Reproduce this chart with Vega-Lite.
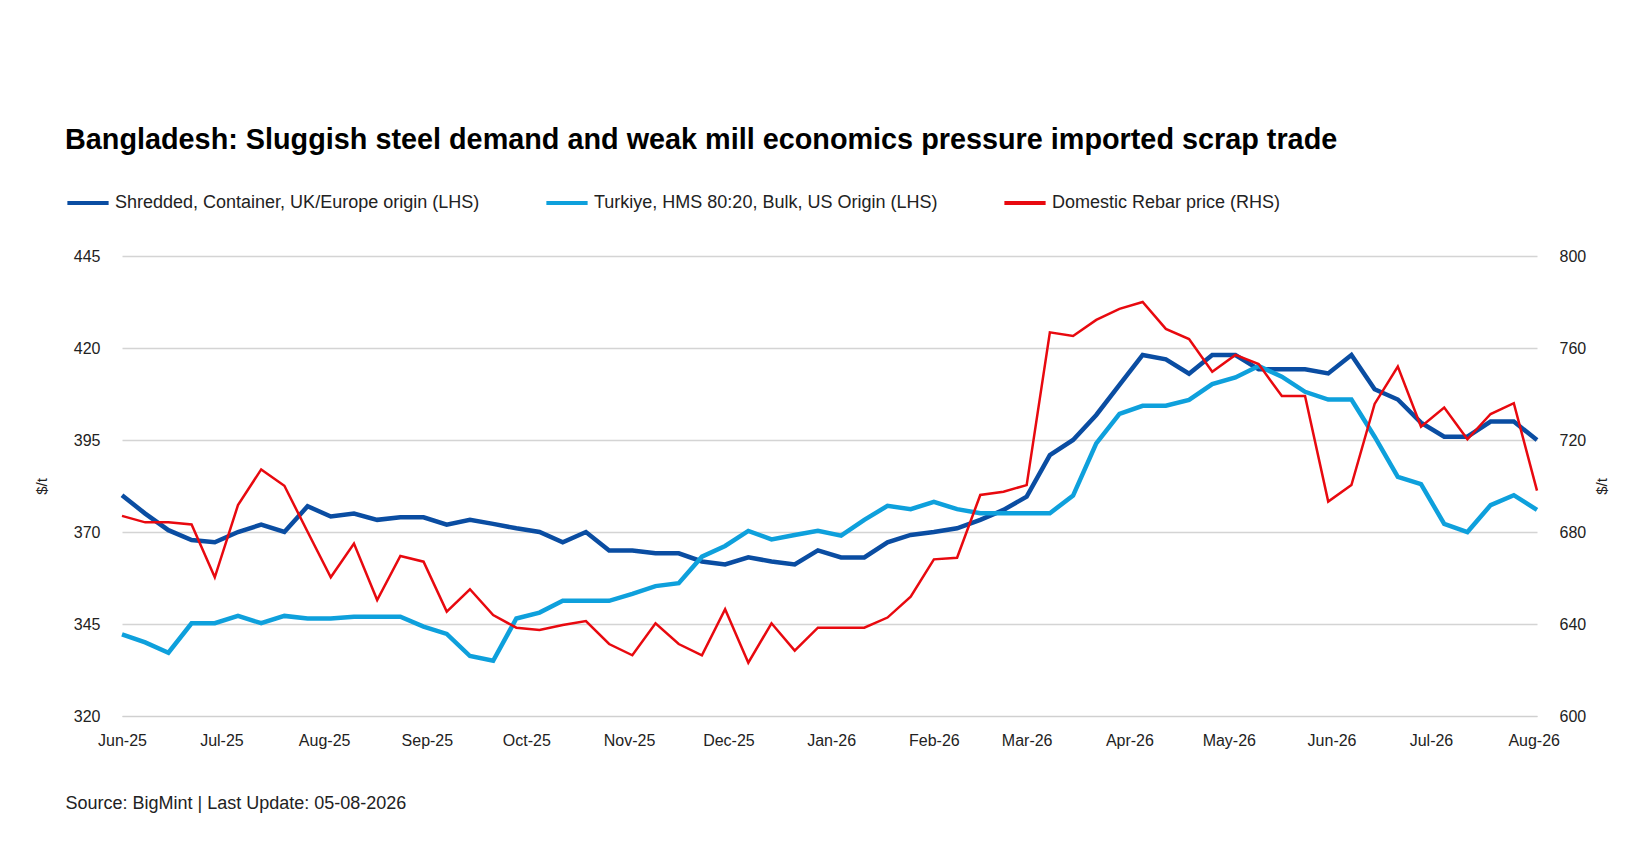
{
  "$schema": "https://vega.github.io/schema/vega-lite/v6.json",
  "width": 1415,
  "height": 460,
  "autosize": "none",
  "padding": {"left": 122, "top": 256, "right": 113, "bottom": 137},
  "background": "white",
  "config": {"font": "Liberation Sans", "view": {"stroke": null}},
  "title": {"text": "Bangladesh: Sluggish steel demand and weak mill economics pressure imported scrap trade", "anchor": "start", "frame": "group", "dx": -57, "offset": 25, "fontSize": 28.8, "fontWeight": "bold", "color": "#000000", "baseline": "top"},
  "data": {"values": [
    {"d":"2025-06-01","a":380,"b":342.2,"r":687},
    {"d":"2025-06-08","a":375,"b":340,"r":684.2},
    {"d":"2025-06-15","a":370.5,"b":337.2,"r":684.2},
    {"d":"2025-06-22","a":367.8,"b":345.2,"r":683.3},
    {"d":"2025-06-29","a":367.2,"b":345.2,"r":660.3},
    {"d":"2025-07-06","a":370,"b":347.2,"r":691.7},
    {"d":"2025-07-13","a":372,"b":345.2,"r":707.2},
    {"d":"2025-07-20","a":370,"b":347.2,"r":700.1},
    {"d":"2025-07-27","a":377,"b":346.5,"r":680.1},
    {"d":"2025-08-03","a":374.2,"b":346.5,"r":660.3},
    {"d":"2025-08-10","a":375,"b":347,"r":675},
    {"d":"2025-08-17","a":373.3,"b":347,"r":650.4},
    {"d":"2025-08-24","a":374,"b":347,"r":669.6},
    {"d":"2025-08-31","a":374,"b":344.3,"r":667.1},
    {"d":"2025-09-07","a":372,"b":342.3,"r":645.4},
    {"d":"2025-09-14","a":373.3,"b":336.3,"r":655.1},
    {"d":"2025-09-21","a":372.2,"b":335,"r":643.9},
    {"d":"2025-09-28","a":371,"b":346.5,"r":638.4},
    {"d":"2025-10-05","a":370,"b":348.1,"r":637.4},
    {"d":"2025-10-12","a":367.2,"b":351.3,"r":639.6},
    {"d":"2025-10-19","a":370,"b":351.3,"r":641.3},
    {"d":"2025-10-26","a":365,"b":351.3,"r":631.3},
    {"d":"2025-11-02","a":365,"b":353.2,"r":626.4},
    {"d":"2025-11-09","a":364.2,"b":355.3,"r":640.3},
    {"d":"2025-11-16","a":364.2,"b":356.1,"r":631.3},
    {"d":"2025-11-23","a":362,"b":363.3,"r":626.4},
    {"d":"2025-11-30","a":361.2,"b":366.2,"r":646.4},
    {"d":"2025-12-07","a":363.1,"b":370.3,"r":623.2},
    {"d":"2025-12-14","a":362,"b":368,"r":640.3},
    {"d":"2025-12-21","a":361.2,"b":369.2,"r":628.4},
    {"d":"2025-12-28","a":365,"b":370.3,"r":638.4},
    {"d":"2026-01-04","a":363.1,"b":369,"r":638.4},
    {"d":"2026-01-11","a":363.1,"b":373.3,"r":638.4},
    {"d":"2026-01-18","a":367.2,"b":377.1,"r":642.8},
    {"d":"2026-01-25","a":369.2,"b":376.2,"r":651.9},
    {"d":"2026-02-01","a":370,"b":378.2,"r":668.1},
    {"d":"2026-02-08","a":371,"b":376.2,"r":668.8},
    {"d":"2026-02-15","a":373.3,"b":375.1,"r":696.1},
    {"d":"2026-02-22","a":376,"b":375.1,"r":697.5},
    {"d":"2026-03-01","a":379.6,"b":375.1,"r":700.4},
    {"d":"2026-03-08","a":390.9,"b":375.1,"r":766.8},
    {"d":"2026-03-15","a":395,"b":379.9,"r":765.2},
    {"d":"2026-03-22","a":401.8,"b":394.1,"r":772.2},
    {"d":"2026-03-29","a":410,"b":402.1,"r":777},
    {"d":"2026-04-05","a":418.1,"b":404.3,"r":780},
    {"d":"2026-04-12","a":416.9,"b":404.3,"r":768.3},
    {"d":"2026-04-19","a":413,"b":405.9,"r":763.9},
    {"d":"2026-04-26","a":418.1,"b":410.2,"r":749.7},
    {"d":"2026-05-03","a":418.1,"b":412,"r":757},
    {"d":"2026-05-10","a":414.2,"b":415.1,"r":753},
    {"d":"2026-05-17","a":414.2,"b":412.2,"r":739.1},
    {"d":"2026-05-24","a":414.2,"b":408.1,"r":739.1},
    {"d":"2026-05-31","a":413.1,"b":406,"r":693.2},
    {"d":"2026-06-07","a":418.1,"b":406,"r":700.4},
    {"d":"2026-06-14","a":408.8,"b":395.9,"r":735.7},
    {"d":"2026-06-21","a":406,"b":385,"r":751.9},
    {"d":"2026-06-28","a":399.7,"b":383,"r":725.8},
    {"d":"2026-07-05","a":395.9,"b":372.2,"r":734.1},
    {"d":"2026-07-12","a":395.9,"b":370,"r":720.3},
    {"d":"2026-07-19","a":400,"b":377.3,"r":731.3},
    {"d":"2026-07-26","a":400,"b":380,"r":736},
    {"d":"2026-08-02","a":395,"b":376,"r":698}
  ]},
  "transform": [
    {"fold": ["a", "b", "r"], "as": ["key", "value"]},
    {"lookup": "key", "from": {"data": {"values": [
      {"key": "a", "series": "Shredded, Container, UK/Europe origin (LHS)"},
      {"key": "b", "series": "Turkiye, HMS 80:20, Bulk, US Origin (LHS)"},
      {"key": "r", "series": "Domestic Rebar price (RHS)"}
    ]}, "key": "key", "fields": ["series"]}}
  ],
  "encoding": {
    "x": {"field": "d", "type": "temporal",
      "scale": {"domain": ["2025-06-01", "2026-08-02"]},
      "axis": {"format": "%b-%y", "tickCount": {"interval": "month", "step": 1}, "grid": false, "ticks": false, "domainColor": "#d0d0d0", "labelFontSize": 16, "labelColor": "#222", "labelPadding": 16, "labelFlush": false,
        "title": "Source: BigMint | Last Update: 05-08-2026", "titleAnchor": "start", "titleX": -57, "titleY": 78, "titleFontSize": 18, "titleFontWeight": "normal", "titleColor": "#222"}},
    "color": {"field": "series", "type": "nominal",
      "scale": {"domain": ["Shredded, Container, UK/Europe origin (LHS)", "Turkiye, HMS 80:20, Bulk, US Origin (LHS)", "Domestic Rebar price (RHS)"], "range": ["#0a4da2", "#0ea0dc", "#e8090f"]},
      "legend": {"title": null, "orient": "none", "legendX": -57, "legendY": -76, "direction": "horizontal", "symbolType": "stroke", "symbolStrokeWidth": 4, "symbolSize": 1700, "labelFontSize": 18, "labelColor": "#222", "columnPadding": 58, "labelOffset": 4, "labelLimit": 500}}
  },
  "layer": [
    {
      "transform": [{"filter": "datum.key != 'r'"}],
      "mark": {"type": "line", "strokeWidth": 4.5},
      "encoding": {
        "y": {"field": "value", "type": "quantitative",
          "scale": {"domain": [320, 445]},
          "axis": {"values": [320, 345, 370, 395, 420, 445], "domain": false, "ticks": false, "gridColor": "#d4d4d4", "gridWidth": 1.5, "labelFontSize": 16, "labelColor": "#222", "labelPadding": 22, "title": "$/t", "titleFontSize": 15, "titleFontWeight": "normal", "titleColor": "#222", "titlePadding": 24}}
      }
    },
    {
      "transform": [{"filter": "datum.key == 'r'"}],
      "mark": {"type": "line", "strokeWidth": 2.5},
      "encoding": {
        "y": {"field": "value", "type": "quantitative",
          "scale": {"domain": [600, 800]},
          "axis": {"orient": "right", "values": [600, 640, 680, 720, 760, 800], "grid": false, "domain": false, "ticks": false, "labelFontSize": 16, "labelColor": "#222", "labelPadding": 22, "title": "$/t", "titleAngle": 270, "titleFontSize": 15, "titleFontWeight": "normal", "titleColor": "#222", "titlePadding": 24}}
      }
    }
  ],
  "resolve": {"scale": {"y": "independent"}}
}
